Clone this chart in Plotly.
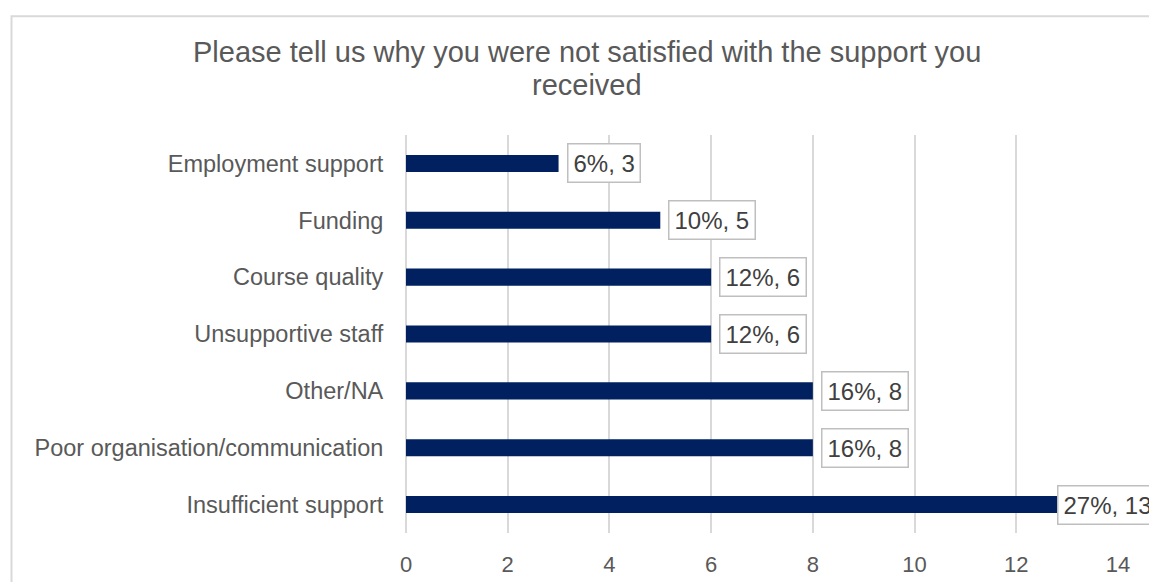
import plotly.graph_objects as go

categories = ["Insufficient support", "Poor organisation/communication", "Other/NA",
              "Unsupportive staff", "Course quality", "Funding", "Employment support"]
counts = [13, 8, 8, 6, 6, 5, 3]
percents = ["27%", "16%", "16%", "12%", "12%", "10%", "6%"]
x_ticks = [0, 2, 4, 6, 8, 10, 12, 14]
title_lines = ["Please tell us why you were not satisfied with the support you", "received"]

W, H = 1149, 582
L, R = 406, 1118
T, B = 134.5, 533.5
FONT = "Arial, Liberation Sans, sans-serif"

fig = go.Figure()
fig.add_trace(go.Bar(
    x=counts, y=categories, orientation="h",
    marker=dict(color="#002060", line=dict(width=0)),
    hoverinfo="skip",
))

annotations = []
vmax = max(counts)
for c, p, v in zip(categories, percents, counts):
    # the longest bar's label is pulled back over the bar end, as in the reference
    shift = -10 if v == vmax else 8
    annotations.append(dict(
        x=v, y=c, xref="x", yref="y", text=f"{p}, {v}", showarrow=False,
        xanchor="left", yanchor="middle", xshift=shift,
        font=dict(family=FONT, size=24, color="#404040"),
        bordercolor="#bfbfbf", borderwidth=1.5, borderpad=5, bgcolor="white",
    ))

def px_x(px):
    return (px - L) / (R - L)

def px_y(py):
    return (B - py) / (B - T)

for i, line in enumerate(title_lines):
    annotations.append(dict(
        x=px_x(587), y=px_y(51 + i * 33), xref="paper", yref="paper",
        text=line, showarrow=False, xanchor="center", yanchor="middle",
        font=dict(family=FONT, size=29, color="#595959"),
    ))

shapes = [dict(
    type="rect", xref="paper", yref="paper",
    x0=px_x(11.5), y0=-2, x1=3, y1=px_y(15.5),
    line=dict(color="#d9d9d9", width=2), fillcolor="rgba(0,0,0,0)", layer="below",
)]

fig.update_layout(
    width=W, height=H,
    margin=dict(l=L, r=W - R, t=T, b=H - B, pad=0, autoexpand=False),
    paper_bgcolor="white", plot_bgcolor="white",
    bargap=0.70,
    showlegend=False,
    annotations=annotations,
    shapes=shapes,
    font=dict(family=FONT, color="#595959"),
    xaxis=dict(
        range=[0, 14], tickvals=x_ticks, showgrid=True, gridcolor="#d9d9d9", gridwidth=1.5,
        zeroline=True, zerolinecolor="#d9d9d9", zerolinewidth=1.5, showline=False,
        tickfont=dict(family=FONT, size=22, color="#595959"),
        ticks="outside", ticklen=12, tickcolor="rgba(0,0,0,0)", fixedrange=True,
        automargin=False,
    ),
    yaxis=dict(
        categoryorder="array", categoryarray=categories, showgrid=False, zeroline=False,
        showline=False,
        tickfont=dict(family=FONT, size=23.5, color="#595959"),
        ticks="outside", ticklen=17, tickcolor="rgba(0,0,0,0)", fixedrange=True,
        automargin=False,
    ),
)

fig.write_html("out.html", config={"displayModeBar": False})
